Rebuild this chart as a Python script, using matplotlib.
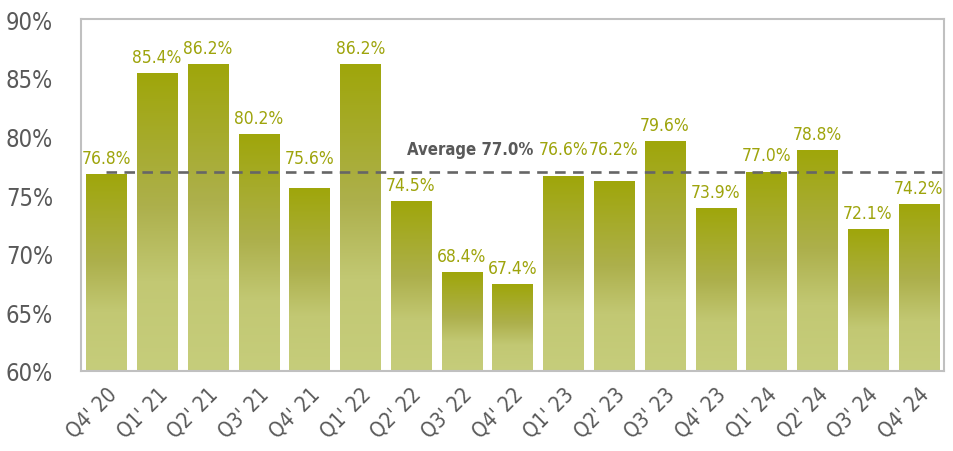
import matplotlib.pyplot as plt
import numpy as np
from matplotlib.colors import LinearSegmentedColormap

quarters = ["Q4' 20", "Q1' 21", "Q2' 21", "Q3' 21", "Q4' 21", "Q1' 22", "Q2' 22",
            "Q3' 22", "Q4' 22", "Q1' 23", "Q2' 23", "Q3' 23", "Q4' 23", "Q1' 24",
            "Q2' 24", "Q3' 24", "Q4' 24"]
values = [76.8, 85.4, 86.2, 80.2, 75.6, 86.2, 74.5, 68.4, 67.4, 76.6, 76.2,
          79.6, 73.9, 77.0, 78.8, 72.1, 74.2]
average = 77.0

# labels that were lifted above the average line in the original
label_lift = {4: 77.35, 9: 78.15, 10: 78.15}

plt.rcParams['font.family'] = ['DejaVu Sans']
plt.rcParams['font.stretch'] = 'condensed'

fig = plt.figure(figsize=(9.54, 4.52), dpi=100)
ax = fig.add_axes([81 / 954, 1 - 372 / 452, (944 - 81) / 954, (372 - 20) / 452])

# gradient: light at bottom, dark olive at the top of each bar
cmap = LinearSegmentedColormap.from_list(
    'olive', [(0, '#c6cd7b'), (0.3, '#c2c873'), (0.55, '#adb04c'), (1, '#9fa60a')])
grad = np.linspace(0, 1, 256).reshape(-1, 1)

x = np.arange(len(values))
w = 0.79
bars = ax.bar(x, np.array(values) - 60, width=w, bottom=60, color='none')
for i, (b, v) in enumerate(zip(bars, values)):
    x0 = b.get_x()
    im = ax.imshow(grad, cmap=cmap, origin='lower', aspect='auto',
                   extent=(x0, x0 + w, 60, v), zorder=1)
    im.set_clip_path(b)
    ax.text(b.get_x() + w / 2, label_lift.get(i, v + 0.6), f'{v:.1f}%',
            ha='center', va='bottom', fontsize=12.5, color='#9ea40c')

ax.plot([0, len(values) - 0.5], [average, average], ls=(0, (4, 2.8)), color='#666666',
        lw=1.9, zorder=3)
ax.text(7.16, average + 1.15, f'Average {average:.1f}%', ha='center', va='bottom',
        fontsize=12, fontweight='bold', color='#595959')

ax.set_xlim(-0.5, len(values) - 0.5)
ax.set_ylim(60, 90)
ax.set_yticks(range(60, 91, 5))
ax.set_yticklabels([f'{t}%' for t in range(60, 91, 5)], fontsize=17, color='#595959')
ax.set_xticks(x)
ax.set_xticklabels(quarters, rotation=45, ha='right', rotation_mode='anchor',
                   fontsize=15, color='#595959')
ax.tick_params(length=0, axis='y', pad=20)
ax.tick_params(length=0, axis='x', pad=9)
for s in ax.spines.values():
    s.set_color('#c0c0c0')
    s.set_linewidth(1.5)

fig.savefig('out.png', dpi=100)
